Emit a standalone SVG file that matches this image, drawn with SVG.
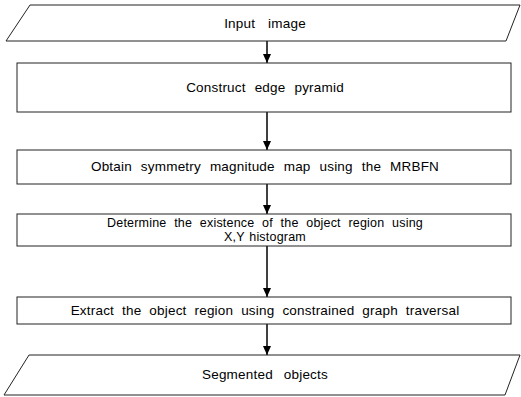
<svg xmlns="http://www.w3.org/2000/svg" width="521" height="397" viewBox="0 0 521 397">
<defs>
<marker id="ah" markerWidth="10" markerHeight="10" refX="9" refY="5" orient="auto" markerUnits="userSpaceOnUse">
<path d="M0,1 L9,5 L0,9 Z" fill="#000"/>
</marker>
<style>
.shape{fill:#fff;stroke:#222;stroke-width:1}
.lbl{font-family:"Liberation Sans",Arial,sans-serif;font-size:13.5px;fill:#000;text-anchor:middle;word-spacing:5px;letter-spacing:0.2px}
.conn{stroke:#000;stroke-width:1.5;fill:none;marker-end:url(#ah)}
</style>
</defs>
<rect width="521" height="397" fill="#fff"/>
<g id="connectors">
<line class="conn" x1="267" y1="41" x2="267" y2="63"/>
<line class="conn" x1="267" y1="112" x2="267" y2="150"/>
<line class="conn" x1="267" y1="184" x2="267" y2="214"/>
<line class="conn" x1="267" y1="246" x2="267" y2="297"/>
<line class="conn" x1="267" y1="324" x2="267" y2="355"/>
</g>
<g id="input">
<polygon class="shape" points="30,5 520,5 506,41 6,41"/>
<text class="lbl" x="265" y="28" style="word-spacing:9px">Input image</text>
</g>
<g id="edge">
<rect class="shape" x="17" y="63" width="494" height="49"/>
<text class="lbl" x="265" y="92">Construct edge pyramid</text>
</g>
<g id="symmetry">
<rect class="shape" x="17" y="150" width="494" height="34"/>
<text class="lbl" x="265" y="171">Obtain symmetry magnitude map using the MRBFN</text>
</g>
<g id="determine">
<rect class="shape" x="17" y="214" width="494" height="32"/>
<text class="lbl" x="265" y="227" style="font-size:12.5px;word-spacing:4px">Determine the existence  of the object region using</text>
<text class="lbl" x="265" y="241" style="font-size:12.5px;word-spacing:1px">X,Y histogram</text>
</g>
<g id="extract">
<rect class="shape" x="17" y="297" width="494" height="27"/>
<text class="lbl" x="265" y="315" style="word-spacing:4px">Extract the object region using constrained graph traversal</text>
</g>
<g id="output">
<polygon class="shape" points="29,355 520,355 505,395 4,395"/>
<text class="lbl" x="265" y="379" style="word-spacing:7px">Segmented objects</text>
</g>
</svg>
